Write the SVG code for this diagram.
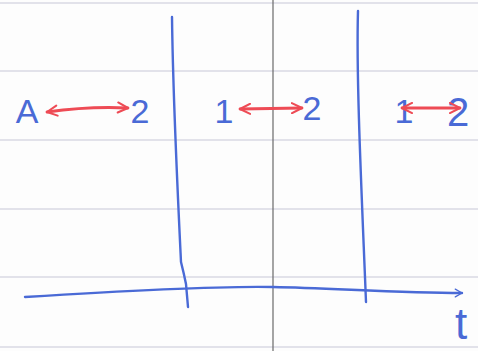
<svg xmlns="http://www.w3.org/2000/svg" width="478" height="351" viewBox="0 0 478 351">
<style>
.rule{stroke:#d9d9e3;stroke-width:1.5;fill:none}
.ink{stroke:#4a6ad6;stroke-width:2.4;fill:none;stroke-linecap:round;stroke-linejoin:round}
.lbl{font-family:"Liberation Sans","DejaVu Sans",sans-serif;fill:#4a6ad6;text-anchor:middle}
.red{stroke:#ee4b55;stroke-width:2.8;fill:none;stroke-linecap:round}
</style>
<defs>
<marker id="ah" viewBox="0 0 10 10" refX="9" refY="5" markerWidth="4.5" markerHeight="4.5" orient="auto-start-reverse" markerUnits="strokeWidth">
<path d="M1 1 L9 5 L1 9" fill="none" stroke="#ee4b55" stroke-width="1.6" stroke-linecap="round" stroke-linejoin="round"/>
</marker>
<marker id="axh" viewBox="0 0 10 10" refX="8" refY="5" markerWidth="4" markerHeight="4" orient="auto" markerUnits="strokeWidth">
<path d="M1 1 L8 5 L1 9" fill="none" stroke="#4a6ad6" stroke-width="1.4" stroke-linecap="round" stroke-linejoin="round"/>
</marker>
</defs>
<rect width="478" height="351" fill="#fdfdfd"/>
<g id="paper">
<path class="rule" d="M0 3H478M0 71H478M0 140H478M0 209H478M0 277H478M0 347H478"/>
<path d="M273 0V351" stroke="#6a6a6a" stroke-width="1.2"/>
</g>
<g id="sketch">
<path class="ink" d="M172 17 C173 100 178 200 181 262 Q184 274 186 284 L188 307"/>
<path class="ink" d="M358 11 C356 80 362 200 366 302"/>
<path class="ink" d="M25 297 C120 291 220 286 273 287 C330 288 400 293 462 293" marker-end="url(#axh)"/>
</g>
<g id="n-A"><text class="lbl" x="27" y="123" font-size="34">A</text></g>
<g id="n-2a"><text class="lbl" x="140" y="123" font-size="34">2</text></g>
<g id="n-1b"><text class="lbl" x="224" y="123" font-size="34">1</text></g>
<g id="n-2b"><text class="lbl" x="312" y="120" font-size="34">2</text></g>
<g id="n-1c"><text class="lbl" x="404" y="123" font-size="34">1</text></g>
<g id="n-2c"><text class="lbl" x="458" y="126" font-size="40">2</text></g>
<g id="n-t"><text class="lbl" x="461" y="339" font-size="44">t</text></g>
<g id="connectors">
<path class="red" d="M47 112 Q90 106 128 108" marker-start="url(#ah)" marker-end="url(#ah)"/>
<path class="red" d="M240 109 L302 108" marker-start="url(#ah)" marker-end="url(#ah)"/>
<path class="red" d="M402 108 L460 108" marker-start="url(#ah)" marker-end="url(#ah)"/>
</g>
</svg>
